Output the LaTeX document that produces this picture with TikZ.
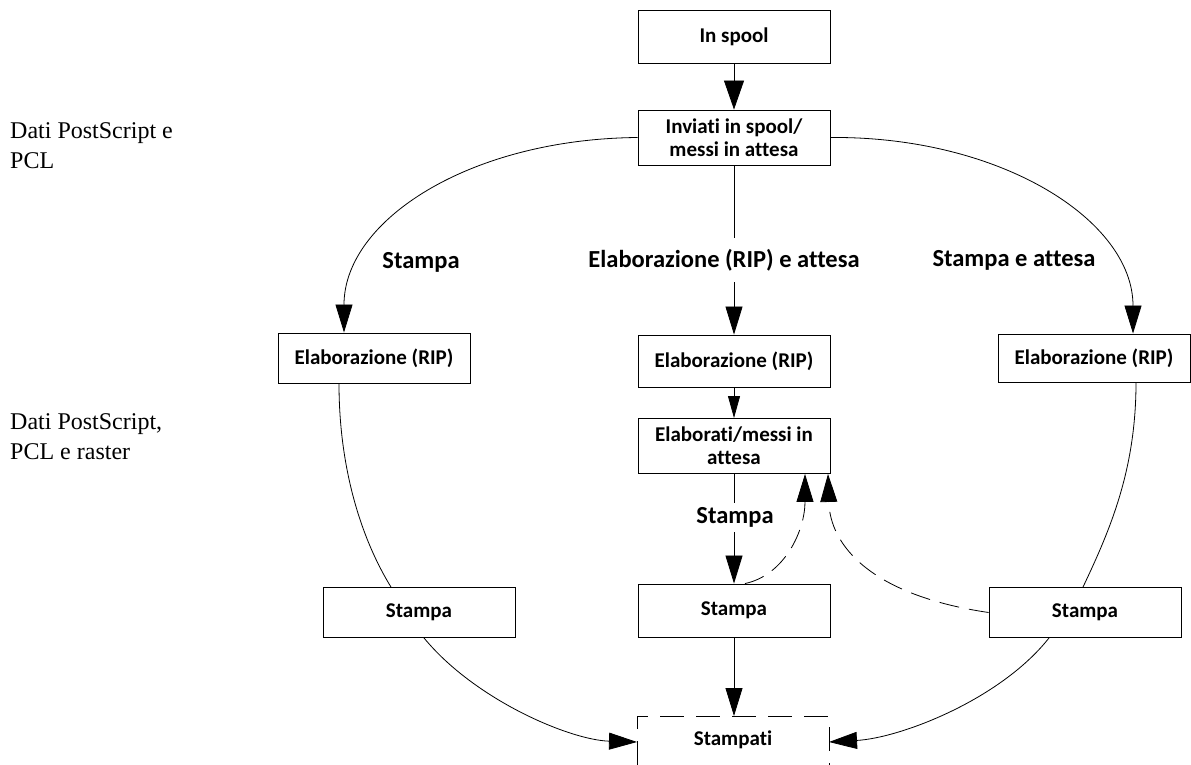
\documentclass[tikz,border=0pt]{standalone}
\usepackage{fontspec}
\setmainfont{Liberation Serif}
\newfontfamily\boxfont[Ligatures=NoCommon]{Carlito}
\usetikzlibrary{arrows.meta}
\begin{document}
\begin{tikzpicture}[x=1pt,y=-1pt,
  box/.style={draw, line width=0.9pt, minimum width=192pt, inner sep=0pt, align=center,
    font=\boxfont\bfseries\fontsize{21}{23}\selectfont},
  lbl/.style={inner sep=0pt, font=\boxfont\bfseries\fontsize{24.5}{27}\selectfont},
  side/.style={anchor=base west, align=left, inner sep=0pt, font=\fontsize{24}{30}\selectfont},
  conn/.style={line width=0.8pt},
  arr/.style={conn, -{Triangle[length=28pt,width=17pt]}},
  bigarr/.style={conn, -{Triangle[length=29pt,width=20pt]}},
  smallarr/.style={conn, -{Triangle[length=22pt,width=12pt]}},
  dasharr/.style={arr, dash pattern=on 20pt off 10pt},
]
\useasboundingbox (0,0) rectangle (1191,765);

% side texts (anchor = baseline of last line)
\node[side] (t1) at (10,168) {Dati PostScript e\\PCL};
\node[side] (t2) at (10,459) {Dati PostScript,\\PCL e raster};

% boxes
\node[box, minimum height=53pt] (spool) at (734,36.5) {In spool};
\node[box, minimum height=55pt] (inv) at (734,137.5) {Inviati in spool/\\messi in attesa};
\node[box, minimum height=50pt] (elabL) at (374,358) {Elaborazione (RIP)};
\node[box, minimum height=52pt] (elabM) at (734,361) {Elaborazione (RIP)};
\node[box, minimum height=48pt] (elabR) at (1094,358) {Elaborazione (RIP)};
\node[box, minimum height=55pt] (elabd) at (734,446) {Elaborati/messi in\\attesa};
\node[box, minimum height=50pt] (stL) at (419,612.5) {Stampa};
\node[box, minimum height=53pt] (stM) at (734,610.5) {Stampa};
\node[box, minimum height=50pt] (stR) at (1085,612.5) {Stampa};

% Stampati (dashed, open at the bottom edge)
\node[box, draw=none] (done) at (733,740) {Stampati};
\draw[conn, dash pattern=on 24pt off 12pt] (637,765) -- (637,716) -- (829,716) -- (829,765);
\coordinate (dTop) at (734,716);
\coordinate (dW) at (637,742);
\coordinate (dE) at (829,742);

% labels
\node[lbl] (lL) at (421,262) {Stampa};
\node[lbl, minimum height=44pt] (lM) at (724,260) {Elaborazione (RIP) e attesa};
\node[lbl] (lR) at (1014,260) {Stampa e attesa};
\node[lbl, minimum height=29pt] (lS) at (735,517.5) {Stampa};

% middle column
\draw[bigarr] (spool.south) -- (inv.north);
\draw[conn] (inv.south) -- (inv.south |- lM.north);
\draw[arr] (inv.south |- lM.south) -- (elabM.north);
\draw[smallarr] (elabM.south) -- (elabd.north);
\draw[conn] (elabd.south) -- (elabd.south |- lS.north);
\draw[arr] (elabd.south |- lS.south) -- (stM.north);
\draw[arr] (stM.south) -- (dTop);

% left branch
\draw[arr] (inv.west) .. controls (470,139) and (344,220) .. ([xshift=-30pt]elabL.north);
\draw[conn] ([xshift=-35pt]elabL.south) .. controls (339,470) and (362,540) .. ([xshift=-28pt]stL.north);
\draw[arr] ([xshift=5pt]stL.south) .. controls (475,700) and (570,740) .. (dW);

% right branch
\draw[arr] (inv.east) .. controls (1000,136) and (1133,220) .. ([xshift=39pt]elabR.north);
\draw[conn] ([xshift=42pt]elabR.south) .. controls (1136,470) and (1110,530) .. ([xshift=-2pt]stR.north);
\draw[arr] ([xshift=-36pt]stR.south) .. controls (1000,700) and (900,738) .. (dE);

% dashed feedback
\draw[dasharr] ([xshift=11pt]stM.north) .. controls (785,575) and (805,530) .. ([xshift=71pt]elabd.south);
\draw[dasharr] (stR.west) .. controls (870,595) and (830,545) .. ([xshift=94pt]elabd.south);
\end{tikzpicture}
\end{document}
